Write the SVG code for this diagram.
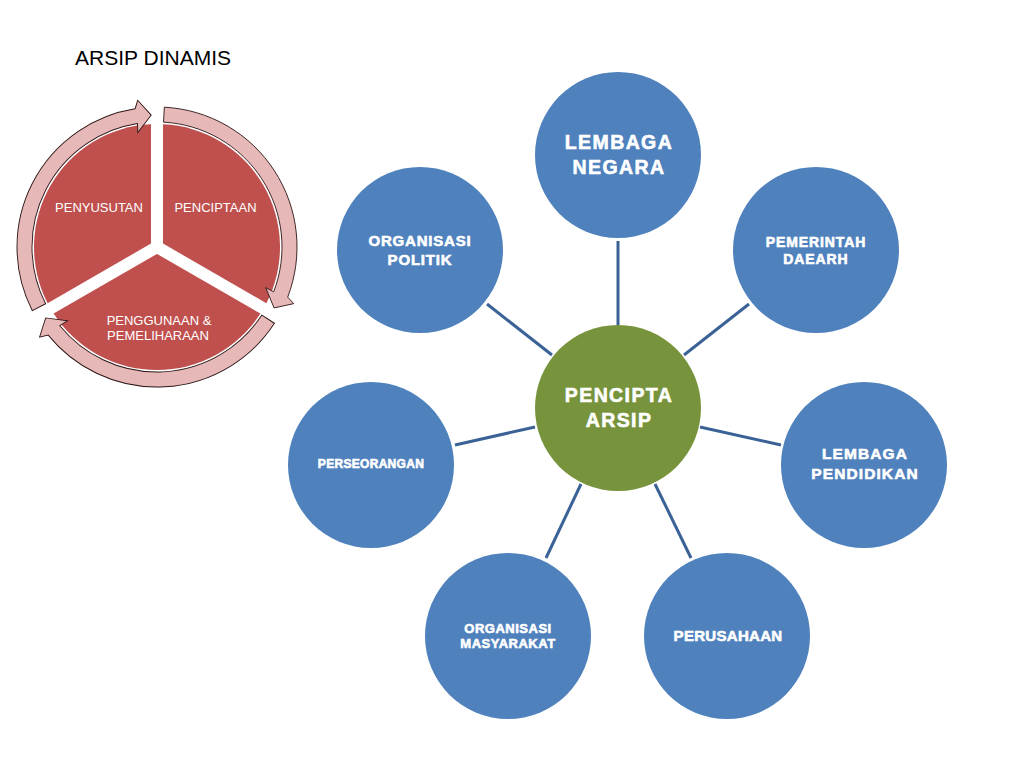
<svg xmlns="http://www.w3.org/2000/svg" xmlns:xlink="http://www.w3.org/1999/xlink" width="1024" height="768" viewBox="0 0 1024 768">
<style>
.node{fill:#4F81BD;}
.hub{fill:#77933C;}
.lbl{font-family:"Liberation Sans",Arial,sans-serif;font-weight:bold;fill:#FFFFFF;stroke:#FFFFFF;stroke-width:0.6;text-anchor:middle;}
.conn line{stroke:#3A6296;stroke-width:3;stroke-linecap:butt;}
.sector{fill:#C0504D;}
.arrow{fill:#E6B9B8;stroke:#2B1414;stroke-width:0.9;stroke-linejoin:miter;}
.clbl{font-family:"Liberation Sans",Arial,sans-serif;font-size:13px;fill:#FFFFFF;text-anchor:middle;}
.title{font-family:"Liberation Sans",Arial,sans-serif;font-size:21px;fill:#000000;}
</style>
<defs>
<path id="sec" d="M 6,-3.46 L 6,-122.85 A 123 123 0 0 1 109.39,56.23 Z"/>
<path id="arr" d="M 7.33,-139.81 A 140 140 0 0 1 130.70,50.17 L 136.73,56.64 L 117.09,60.95 L 108.65,40.62 L 116.70,44.80 A 125 125 0 0 0 6.54,-124.83 Z"/>
</defs>
<rect width="1024" height="768" fill="#FFFFFF"/>

<text class="title" x="75" y="65">ARSIP DINAMIS</text>

<g id="cycle" transform="translate(157,247)">
  <g id="penciptaan">
    <use xlink:href="#sec" class="sector"/>
  </g>
  <g id="penggunaan">
    <use xlink:href="#sec" class="sector" transform="rotate(120)"/>
  </g>
  <g id="penyusutan">
    <use xlink:href="#sec" class="sector" transform="rotate(240)"/>
  </g>
  <g id="cycle-arrows">
    <use xlink:href="#arr" class="arrow"/>
    <use xlink:href="#arr" class="arrow" transform="rotate(120)"/>
    <use xlink:href="#arr" class="arrow" transform="rotate(240)"/>
  </g>
</g>
<text class="clbl" x="99" y="212">PENYUSUTAN</text>
<text class="clbl" x="215.5" y="212">PENCIPTAAN</text>
<text class="clbl" x="159" y="325">PENGGUNAAN &amp;</text>
<text class="clbl" x="158" y="340">PEMELIHARAAN</text>

<g id="connectors" class="conn">
  <line x1="618" y1="241" x2="618" y2="325"/>
  <line x1="487" y1="304" x2="552" y2="355"/>
  <line x1="749" y1="304" x2="684" y2="355"/>
  <line x1="455" y1="445" x2="535" y2="427"/>
  <line x1="781" y1="445" x2="700" y2="427"/>
  <line x1="581" y1="484" x2="546" y2="558"/>
  <line x1="655" y1="484" x2="691" y2="558"/>
</g>

<g id="pencipta-arsip">
  <circle class="hub" cx="618" cy="408" r="83"/>
  <text class="lbl" x="619" y="402" font-size="19.5" letter-spacing="1.4">PENCIPTA</text>
  <text class="lbl" x="619" y="427" font-size="19.5" letter-spacing="1.4">ARSIP</text>
</g>
<g id="lembaga-negara">
  <circle class="node" cx="618" cy="155" r="83"/>
  <text class="lbl" x="619" y="149" font-size="19.5" letter-spacing="1.4">LEMBAGA</text>
  <text class="lbl" x="619" y="174" font-size="19.5" letter-spacing="1.4">NEGARA</text>
</g>
<g id="organisasi-politik">
  <circle class="node" cx="420" cy="250" r="83"/>
  <text class="lbl" x="420" y="246" font-size="15" letter-spacing="0.8">ORGANISASI</text>
  <text class="lbl" x="420" y="265" font-size="15" letter-spacing="0.8">POLITIK</text>
</g>
<g id="pemerintah-daearh">
  <circle class="node" cx="816" cy="250" r="83"/>
  <text class="lbl" x="816" y="247" font-size="14" letter-spacing="0.9">PEMERINTAH</text>
  <text class="lbl" x="816" y="264" font-size="14" letter-spacing="0.9">DAEARH</text>
</g>
<g id="perseorangan">
  <circle class="node" cx="371" cy="465" r="83"/>
  <text class="lbl" x="371" y="468" font-size="12" letter-spacing="0.3">PERSEORANGAN</text>
</g>
<g id="lembaga-pendidikan">
  <circle class="node" cx="864" cy="465" r="83"/>
  <text class="lbl" x="865" y="459" font-size="15.5" letter-spacing="1.1">LEMBAGA</text>
  <text class="lbl" x="865" y="479" font-size="15.5" letter-spacing="1.1">PENDIDIKAN</text>
</g>
<g id="organisasi-masyarakat">
  <circle class="node" cx="508" cy="636" r="83"/>
  <text class="lbl" x="508" y="633" font-size="13" letter-spacing="0.5">ORGANISASI</text>
  <text class="lbl" x="508" y="648" font-size="13" letter-spacing="0.5">MASYARAKAT</text>
</g>
<g id="perusahaan">
  <circle class="node" cx="727" cy="636" r="83"/>
  <text class="lbl" x="728" y="641" font-size="15" letter-spacing="0.3">PERUSAHAAN</text>
</g>
</svg>
